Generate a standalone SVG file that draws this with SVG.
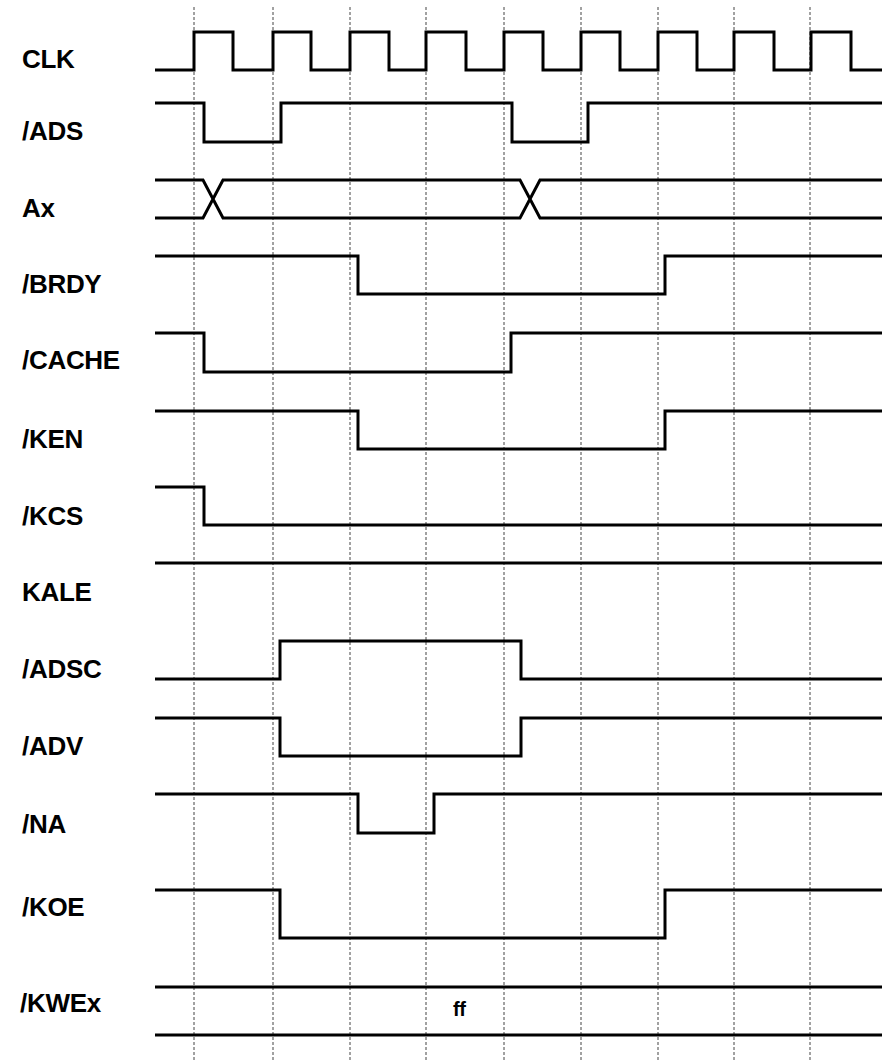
<svg xmlns="http://www.w3.org/2000/svg" width="882" height="1061" viewBox="0 0 882 1061">
<style>
.lbl{font-family:"Liberation Sans",Arial,sans-serif;font-weight:bold;font-size:26px;fill:#000;letter-spacing:-0.3px}
.sig{fill:none;stroke:#000;stroke-width:3;stroke-linejoin:miter;stroke-linecap:butt}
.grid{stroke:#444;stroke-width:1;stroke-dasharray:3,2;fill:none}
.val{font-family:"Liberation Sans",Arial,sans-serif;font-weight:bold;font-size:20px;fill:#000;letter-spacing:-0.5px}
</style>
<rect width="882" height="1061" fill="#fff"/>
<g id="grid">
<path class="grid" d="M194,7V1061M273,7V1061M350,7V1061M426,7V1061M504,7V1061M581,7V1061M658,7V1061M734,7V1061M810,7V1061"/>
</g>
<g id="CLK"><text class="lbl" x="22" y="68">CLK</text>
<path class="sig" d="M155,70H194V32H233V70H273V32H311V70H350V32H389V70H426V32H466V70H504V32H543V70H581V32H620V70H658V32H697V70H734V32H774V70H811V32H851V70H882"/></g>
<g id="ADS"><text class="lbl" x="22" y="140">/ADS</text>
<path class="sig" d="M155,103H204V142H281V103H512V142H588V103H882"/></g>
<g id="Ax"><text class="lbl" x="22" y="217">Ax</text>
<path class="sig" d="M155,180H203L223,218H520L540,180H882M155,218H203L223,180H520L540,218H882"/></g>
<g id="BRDY"><text class="lbl" x="22" y="293">/BRDY</text>
<path class="sig" d="M155,256H358V294H665V256H882"/></g>
<g id="CACHE"><text class="lbl" x="22" y="369">/CACHE</text>
<path class="sig" d="M155,333H204V372H511V333H882"/></g>
<g id="KEN"><text class="lbl" x="22" y="448">/KEN</text>
<path class="sig" d="M155,411H358V449H665V411H882"/></g>
<g id="KCS"><text class="lbl" x="22" y="525">/KCS</text>
<path class="sig" d="M155,487H204V525H882"/></g>
<g id="KALE"><text class="lbl" x="22" y="601">KALE</text>
<path class="sig" d="M155,563H882"/></g>
<g id="ADSC"><text class="lbl" x="22" y="678">/ADSC</text>
<path class="sig" d="M155,679H280V641H521V679H882"/></g>
<g id="ADV"><text class="lbl" x="22" y="755">/ADV</text>
<path class="sig" d="M155,718H280V756H521V718H882"/></g>
<g id="NA"><text class="lbl" x="22" y="833">/NA</text>
<path class="sig" d="M155,794H358V833H434V794H882"/></g>
<g id="KOE"><text class="lbl" x="22" y="916">/KOE</text>
<path class="sig" d="M155,890H280V938H665V890H882"/></g>
<g id="KWEx"><text class="lbl" x="20" y="1012">/KWEx</text>
<path class="sig" d="M155,987H882M155,1035H882"/>
<text class="val" x="453" y="1016">ff</text></g>
</svg>
